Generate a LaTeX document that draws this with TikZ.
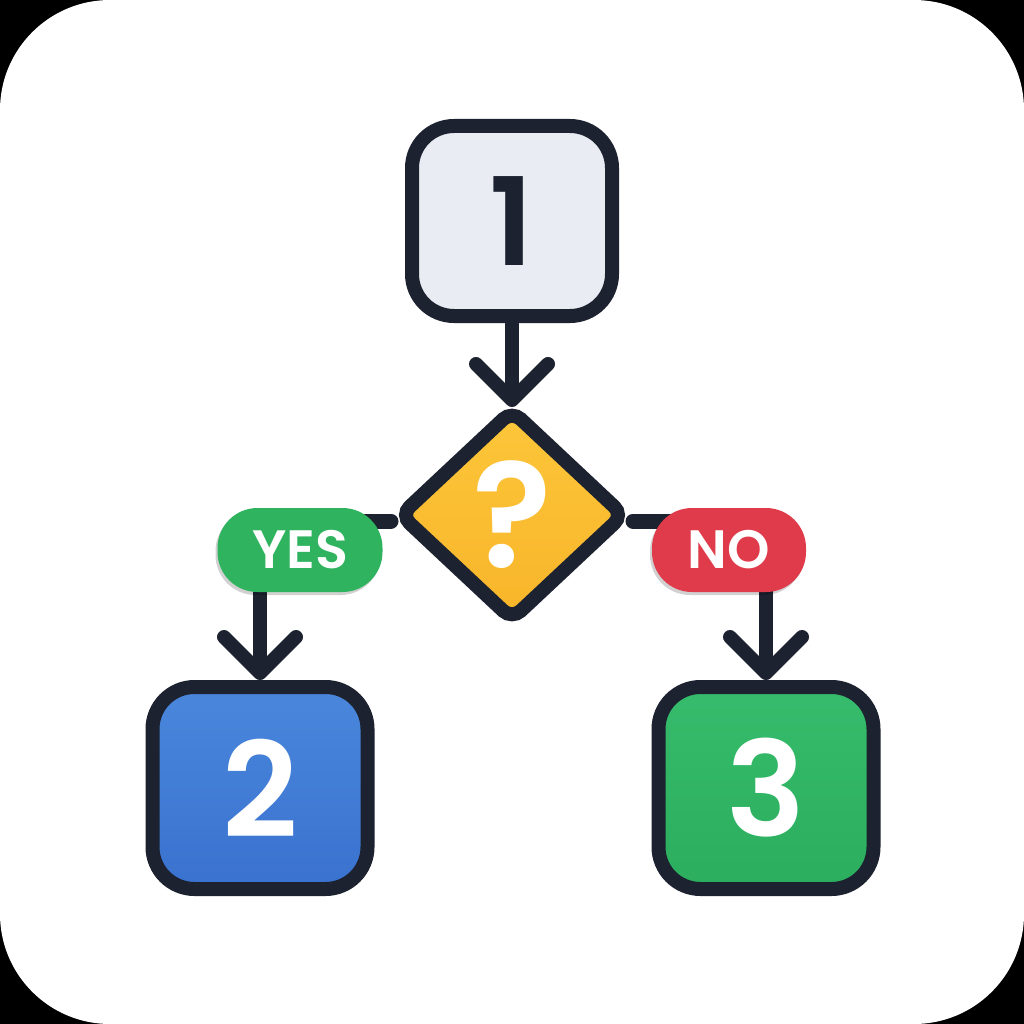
\documentclass[tikz,border=0pt]{standalone}
\usepackage{fontspec}
\setmainfont{Poppins}[BoldFont={Poppins SemiBold}]
\usetikzlibrary{arrows.meta,shapes.geometric,shadows}
\definecolor{ink}{HTML}{1D2230}
\definecolor{boxgray}{HTML}{E9EDF3}
\definecolor{blueA}{HTML}{4A87DC}
\definecolor{blueB}{HTML}{3A72CF}
\definecolor{greenA}{HTML}{36BC6C}
\definecolor{greenB}{HTML}{2BAE5E}
\definecolor{amberA}{HTML}{FDC63A}
\definecolor{amberB}{HTML}{F8B52A}
\definecolor{yesgreen}{HTML}{2FB35F}
\definecolor{nored}{HTML}{E03B4B}
\pgfdeclarelayer{back}
\pgfdeclarelayer{conn}
\pgfsetlayers{back,conn,main}
\begin{document}
\begin{tikzpicture}[x=1pt,y=-1pt,
  stepbox/.style={draw=ink, line width=14pt, rounded corners=42pt, inner sep=0pt},
  digit/.style={font=\fontsize{132}{132}\selectfont\bfseries},
  pill/.style={rounded corners=40pt, minimum height=84pt, inner sep=0pt, text=white,
    font=\fontsize{54}{54}\selectfont\bfseries,
    drop shadow={shadow xshift=-2pt, shadow yshift=-3pt, opacity=0.18, fill=black}},
  conn/.style={draw=ink, line width=15pt, line cap=round},
  chev/.style={conn, line width=14pt, -{Straight Barb[length=36pt 0 0, width=72pt 0 0, round]}}
]
\useasboundingbox (0,0) rectangle (1024,1024);
\begin{pgfonlayer}{back}
  \fill[black] (0,0) rectangle (1024,1024);
  \fill[white, rounded corners=110pt] (0,0) rectangle (1024,1024);
\end{pgfonlayer}

\node[stepbox, fill=boxgray, minimum width=200pt, minimum height=190pt, text=ink,
  font=\fontsize{122}{122}\selectfont\bfseries] (b1) at (512,221) {1};
\node[diamond, draw=ink, line width=14pt, top color=amberA, bottom color=amberB,
  rounded corners=12pt, minimum width=228pt, minimum height=214pt, inner sep=0pt,
  text=white, font=\fontsize{148}{148}\selectfont\bfseries] (d) at (512,515) {?};
\node[pill, fill=yesgreen, minimum width=165pt] (yes) at (300,550) {YES};
\node[pill, fill=nored, minimum width=154pt] (no) at (729,550) {NO};
\node[stepbox, top color=blueA, bottom color=blueB, minimum width=215pt, minimum height=202pt,
  text=white, digit] (b2) at (260,788) {2};
\node[stepbox, top color=greenA, bottom color=greenB, minimum width=215pt, minimum height=202pt,
  text=white, digit] (b3) at (766,788) {3};

\begin{pgfonlayer}{conn}
  \draw[chev] (b1.south) -- ([yshift=-6pt]d.north);
  \draw[conn] ([yshift=-6pt]d.west) -- ([xshift=-24pt,yshift=-6pt]d.west -| yes.east);
  \draw[conn] ([yshift=-6pt]d.east) -- ([xshift=24pt,yshift=-6pt]d.east -| no.west);
  \draw[chev] (b2.north |- yes.center) -- (b2.north);
  \draw[chev] (b3.north |- no.center) -- (b3.north);
\end{pgfonlayer}
\end{tikzpicture}
\end{document}
